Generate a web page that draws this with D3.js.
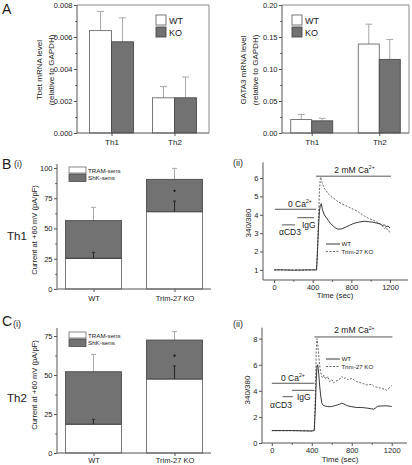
<!DOCTYPE html>
<html><head><meta charset="utf-8">
<script src="https://cdn.jsdelivr.net/npm/d3@7"></script>
<style>html,body{margin:0;padding:0;background:#fff;}svg{display:block;}</style>
</head><body>
<script>
// ---------------- DATA ----------------
const groupsA = ["Th1", "Th2"];
const tbetWT = [0.0064, 0.0022];
const tbetWTerr = [0.0012, 0.0007];
const tbetKO = [0.0057, 0.0022];
const tbetKOerr = [0.0015, 0.0013];
const gataWT = [0.021, 0.139];
const gataWTerr = [0.008, 0.031];
const gataKO = [0.019, 0.115];
const gataKOerr = [0.004, 0.031];
const tbetTicks = [0, 0.002, 0.004, 0.006, 0.008];
const gataTicks = [0, 0.05, 0.10, 0.15, 0.20];

const genotypes = ["WT", "Trim-27 KO"];
const th1Tram = [25.3, 63.9];
const th1Total = [56.5, 90.6];
const th1TotalErr = [11.0, 9.1];
const th1TramErr = [5.0, 8.8];
const th1Sig = [null, 81.2];
const th2Tram = [18.4, 47.4];
const th2Total = [52.1, 72.4];
const th2TotalErr = [11.1, 5.4];
const th2TramErr = [3.2, 8.4];
const th2Sig = [null, 62.4];
const th1Ticks = [0, 25, 50, 75, 100];
const th2Ticks = [0, 25, 50, 75];

const bTime = [0,100,200,300,400,440,450,460,470,480,490,500,520,540,560,580,600,630,660,700,740,780,820,860,900,940,980,1020,1060,1100,1120,1140,1160,1180,1200];
const bWT = [1.0,1.0,0.98,1.0,1.0,1.0,2.0,3.3,4.2,4.55,4.6,4.3,4.0,3.85,3.7,3.55,3.45,3.3,3.22,3.23,3.32,3.42,3.52,3.58,3.62,3.65,3.62,3.6,3.55,3.5,3.42,3.45,3.36,3.38,3.28];
const bKO = [1.0,1.0,1.0,0.98,1.0,1.0,2.2,3.8,5.3,6.05,5.9,5.7,5.45,5.3,5.15,5.05,4.95,4.85,4.72,4.6,4.5,4.4,4.3,4.2,4.05,3.92,3.8,3.72,3.62,3.48,3.4,3.25,3.32,3.12,3.05];
const cTime = [0,100,200,300,400,425,435,445,452,460,470,480,490,500,510,520,540,560,580,600,620,640,660,680,700,720,740,760,800,850,900,950,1000,1020,1040,1060,1100,1150,1200];
const cWT = [0.95,0.95,0.95,0.93,0.92,0.95,2.5,4.8,5.9,6.0,5.3,4.3,3.6,3.1,2.92,2.87,2.82,2.8,2.78,2.8,2.84,2.88,2.93,2.98,3.05,3.0,2.92,2.85,2.78,2.72,2.72,2.68,2.62,2.6,2.7,2.82,2.84,2.85,2.8];
const cKO = [0.95,0.95,0.95,0.95,0.93,1.0,3.5,7.2,8.0,7.6,6.7,5.9,5.4,5.1,5.0,5.2,4.9,5.1,4.7,4.85,4.6,4.75,4.8,4.9,5.1,4.95,5.0,4.85,4.95,4.7,4.6,4.45,4.5,4.35,4.3,4.25,4.2,4.05,4.4];
const timeTicks = [0, 400, 800, 1200];
const bRatioTicks = [1, 2, 3, 4, 5, 6];
const cRatioTicks = [0, 2, 4, 6, 8];
// treatment bars: [label, start time, end time, level]
const bTreat = [["2 mM", 434, 1210, 6.1], ["0", 10, 434, 4.3], ["IgG", 240, 413, 3.84], ["αCD3", 80, 218, 3.45]];
const cTreat = [["2 mM", 427, 1207, 8.13], ["0", 0, 427, 4.58], ["IgG", 203, 427, 4.04], ["αCD3", 107, 210, 3.55]];

// ---------------- SETUP ----------------
const FONT = "'Liberation Sans', Arial, Helvetica, sans-serif";
const AX = "#555", DARK = "#727272", DARKSTROKE = "#4a4a4a", ERR = "#a8a8a8", TXT = "#1a1a1a";
const svg = d3.select("body").append("svg").attr("width", 412).attr("height", 465)
  .style("font-family", FONT);

function line(g, x1, y1, x2, y2, col, w) {
  return g.append("line").attr("x1", x1).attr("y1", y1).attr("x2", x2).attr("y2", y2)
    .attr("stroke", col || AX).attr("stroke-width", w || 1);
}
function text(g, x, y, s, size, anchor) {
  return g.append("text").attr("x", x).attr("y", y).text(s).attr("font-size", size)
    .attr("fill", TXT).attr("text-anchor", anchor || "start");
}
function styleAxis(sel, fs) {
  sel.select(".domain").remove();
  sel.selectAll(".tick line").attr("stroke", AX);
  sel.selectAll(".tick text").attr("font-size", fs || 7.5).attr("fill", TXT).attr("font-family", FONT);
}
function yAxis(g, scale, x, majors, fmt, minors, top) {
  const a = g.append("g").attr("transform", `translate(${x},0)`)
    .call(d3.axisLeft(scale).tickValues(majors).tickFormat(fmt).tickSize(3).tickPadding(1.5));
  styleAxis(a);
  if (minors) {
    const m = g.append("g").attr("transform", `translate(${x},0)`)
      .call(d3.axisLeft(scale).tickValues(minors).tickFormat("").tickSize(1.8));
    styleAxis(m);
  }
  line(g, x, scale.range()[0], x, top !== undefined ? top : scale.range()[1]);
}
function xAxisBottom(g, scale, y, ticks, fmt, x0, x1, minors, fs, dy) {
  const a = g.append("g").attr("transform", `translate(0,${y})`)
    .call(d3.axisBottom(scale).tickValues(ticks).tickFormat(fmt).tickSize(3).tickPadding(1.5));
  styleAxis(a, fs);
  if (dy) a.selectAll(".tick text").attr("dy", dy);
  if (minors) {
    const m = g.append("g").attr("transform", `translate(0,${y})`)
      .call(d3.axisBottom(scale).tickValues(minors).tickFormat("").tickSize(1.8));
    styleAxis(m);
  }
  line(g, x0, y, x1, y);
}
function rotLabel(g, x, y, lines, size, gap) {
  const t = g.append("text").attr("transform", `translate(${x},${y}) rotate(-90)`)
    .attr("text-anchor", "middle").attr("font-size", size).attr("fill", TXT);
  lines.forEach((s, i) => t.append("tspan").attr("x", 0).attr("dy", i === 0 ? 0 : gap).text(s));
}
function caText(g, x, y, prefix, size, anchor) {
  const t = g.append("text").attr("x", x).attr("y", y).attr("font-size", size).attr("fill", TXT)
    .attr("text-anchor", anchor || "start");
  t.append("tspan").text(prefix + " Ca");
  t.append("tspan").attr("dy", -3.5).attr("font-size", size * 0.6).text("2+");
  return t;
}

// ---------------- PANEL A ----------------
function panelA(x0, x1, yMax, ticks, fmt, minorStep, wt, wtErr, ko, koErr, bw, pad, legX, labelX, lab) {
  const g = svg.append("g");
  const y = d3.scaleLinear().domain([0, yMax]).range([133, 5]);
  const x = d3.scalePoint().domain(groupsA).range([x0, x1]).padding(pad);
  const minors = d3.range(0, yMax + 1e-9, minorStep);
  line(g, x0, 5, x1, 5, "#8a8a8a");
  line(g, x1, 5, x1, 133, "#8a8a8a");
  const series = [[wt, wtErr, -1], [ko, koErr, 0]];
  series.forEach(([v, e, off]) => {
    groupsA.forEach((c, i) => {
      const cx = x(c) + off * bw + bw / 2;
      line(g, cx, y(v[i]), cx, y(v[i] + e[i]), ERR);
      line(g, cx - 3.5, y(v[i] + e[i]), cx + 3.5, y(v[i] + e[i]), ERR);
    });
  });
  groupsA.forEach((c, i) => {
    g.append("rect").attr("x", x(c) - bw).attr("y", y(wt[i])).attr("width", bw).attr("height", y(0) - y(wt[i]))
      .attr("fill", "#fff").attr("stroke", "#6a6a6a").attr("stroke-width", 0.9);
    g.append("rect").attr("x", x(c)).attr("y", y(ko[i])).attr("width", bw).attr("height", y(0) - y(ko[i]))
      .attr("fill", DARK).attr("stroke", DARKSTROKE).attr("stroke-width", 0.9);
  });
  yAxis(g, y, x0, ticks, d3.format(fmt), minors, 5);
  xAxisBottom(g, x, 133, groupsA, d => d, x0, x1, null, 8, "0.9em");
  g.append("rect").attr("x", legX).attr("y", 15).attr("width", 10).attr("height", 10).attr("fill", "#fff").attr("stroke", "#6a6a6a").attr("stroke-width", 0.9);
  g.append("rect").attr("x", legX).attr("y", 27).attr("width", 10).attr("height", 10).attr("fill", DARK).attr("stroke", DARKSTROKE).attr("stroke-width", 0.9);
  text(g, legX + 13, 24, "WT", 9);
  text(g, legX + 13, 36, "KO", 9);
  rotLabel(g, labelX, 70, lab, 8, 11.5);
}
panelA(77, 209, 0.008, tbetTicks, ".3f", 0.001, tbetWT, tbetWTerr, tbetKO, tbetKOerr, 22, 0.548, 156, 42, ["Tbet mRNA level", "(relative to GAPDH)"]);
panelA(282, 409, 0.20, gataTicks, ".2f", 0.025, gataWT, gataWTerr, gataKO, gataKOerr, 21, 0.44, 292, 246, ["GATA3 mRNA level", "(relative to GAPDH)"]);
svg.append("text").attr("x", 2).attr("y", 14).attr("font-size", 14).attr("fill", TXT).text("A");

// ---------------- PANELS B(i), C(i) ----------------
function panelI(yTop, yBase, yMaxTick, yAxisTop, ticks, tram, total, totErr, tramErr, sig, legY, labelY, xdy) {
  const g = svg.append("g");
  const y = d3.scaleLinear().domain([0, yMaxTick]).range([yBase, yTop]);
  const x = d3.scalePoint().domain(genotypes).range([57, 211]).padding(0.45);
  const bw = 56;
  genotypes.forEach((c, i) => {
    const cx = x(c);
    line(g, cx, y(total[i]), cx, y(total[i] + totErr[i]), ERR);
    line(g, cx - 2.5, y(total[i] + totErr[i]), cx + 2.5, y(total[i] + totErr[i]), ERR);
    g.append("rect").attr("x", cx - bw / 2).attr("y", y(total[i])).attr("width", bw).attr("height", y(tram[i]) - y(total[i]))
      .attr("fill", DARK).attr("stroke", DARKSTROKE).attr("stroke-width", 0.9);
    g.append("rect").attr("x", cx - bw / 2).attr("y", y(tram[i])).attr("width", bw).attr("height", y(0) - y(tram[i]))
      .attr("fill", "#fff").attr("stroke", "#6a6a6a").attr("stroke-width", 0.9);
    line(g, cx - bw / 2, y(tram[i]), cx + bw / 2, y(tram[i]), DARKSTROKE, 1.1);
    line(g, cx, y(tram[i]), cx, y(tram[i] + tramErr[i]), "#2a2a2a", 1.1);
    line(g, cx - 1.5, y(tram[i] + tramErr[i]), cx + 1.5, y(tram[i] + tramErr[i]), "#2a2a2a", 1);
    if (sig[i] !== null) g.append("circle").attr("cx", cx).attr("cy", y(sig[i])).attr("r", 1.1).attr("fill", "#111");
  });
  const minors = d3.range(12.5, yMaxTick + 1, 25);
  yAxis(g, y, 57, ticks, d3.format("d"), minors, yAxisTop);
  xAxisBottom(g, x, yBase, genotypes, d => d, 57, 211, null, 7.5, xdy);
  const lx = 69;
  g.append("rect").attr("x", lx).attr("y", legY).attr("width", 17).attr("height", 6).attr("fill", "#fff").attr("stroke", "#6a6a6a").attr("stroke-width", 0.8);
  g.append("rect").attr("x", lx).attr("y", legY + 7).attr("width", 17).attr("height", 7.5).attr("fill", DARK).attr("stroke", DARKSTROKE).attr("stroke-width", 0.8);
  text(g, lx + 19, legY + 5.5, "TRAM-sens", 6.2);
  text(g, lx + 19, legY + 13, "ShK-sens", 6.2);
  rotLabel(g, 37, labelY, ["Current at +60 mV (pA/pF)"], 7.6, 0);
}
panelI(168, 289, 100, 164, th1Ticks, th1Tram, th1Total, th1TotalErr, th1TramErr, th1Sig, 167, 230, "1.0em");
panelI(336, 453, 75, 328, th2Ticks, th2Tram, th2Total, th2TotalErr, th2TramErr, th2Sig, 332, 385, "0.78em");

svg.append("text").attr("x", 2).attr("y", 169).attr("font-size", 14).attr("fill", TXT).text("B");
svg.append("text").attr("x", 14).attr("y", 167).attr("font-size", 9).attr("fill", TXT).text("(i)");
svg.append("text").attr("x", 7).attr("y", 240).attr("font-size", 11.5).attr("fill", TXT).text("Th1");
svg.append("text").attr("x", 2).attr("y", 326).attr("font-size", 14).attr("fill", TXT).text("C");
svg.append("text").attr("x", 13).attr("y", 327).attr("font-size", 9).attr("fill", TXT).text("(i)");
svg.append("text").attr("x", 7).attr("y", 402).attr("font-size", 11.5).attr("fill", TXT).text("Th2");

// ---------------- PANELS B(ii), C(ii) ----------------
function panelII(cfg) {
  const g = svg.append("g");
  const x = d3.scaleLinear().domain(cfg.tDom).range(cfg.xRange);
  const y = d3.scaleLinear().domain(cfg.yDom).range(cfg.yRange);
  const ln = d3.line().x(d => x(d[0])).y(d => y(d[1]));
  const wtPts = cfg.time.map((t, i) => [t, cfg.wt[i]]);
  const koPts = cfg.time.map((t, i) => [t, cfg.ko[i]]);
  g.append("path").attr("d", ln(koPts)).attr("fill", "none").attr("stroke", "#555").attr("stroke-width", 0.9).attr("stroke-dasharray", "2,1.5");
  g.append("path").attr("d", ln(wtPts)).attr("fill", "none").attr("stroke", "#222").attr("stroke-width", 0.9);
  yAxis(g, y, cfg.xRange[0], cfg.yTicks, d3.format("d"), null, cfg.yRange[1]);
  xAxisBottom(g, x, cfg.yRange[0], timeTicks, d3.format("d"), cfg.xRange[0], cfg.xRange[1], [200, 600, 1000], 7.5, "0.68em");
  text(g, cfg.timeX, cfg.timeY, "Time (sec)", 7.8, "middle");
  rotLabel(g, cfg.ratioX, cfg.ratioY, ["340/380"], 8, 0);
  cfg.treat.forEach(([lab, t0, t1, lev]) => {
    line(g, x(t0), y(lev), x(t1), y(lev), "#555", 1);
  });
  const tr = Object.fromEntries(cfg.treat.map(d => [d[0], d]));
  caText(g, (x(tr["2 mM"][1]) + x(tr["2 mM"][2])) / 2 + 1, y(tr["2 mM"][3]) - 3.5, "2 mM", 8.5, "middle");
  caText(g, cfg.zeroX, y(tr["0"][3]) - 2.5, "0", 8.5, "start");
  text(g, cfg.igX, y(tr["IgG"][3]) + cfg.igDy, "IgG", 8.5);
  text(g, cfg.cdX, y(tr["αCD3"][3]) + cfg.cdDy, "αCD3", 8.5);
  line(g, cfg.legX, cfg.legY, cfg.legX + 14, cfg.legY, "#222", 0.9);
  line(g, cfg.legX, cfg.legY + 7.5, cfg.legX + 14, cfg.legY + 7.5, "#555", 0.9).attr("stroke-dasharray", "2,1.5");
  text(g, cfg.legX + 15.5, cfg.legY + 2.2, "WT", 6.2);
  text(g, cfg.legX + 15.5, cfg.legY + 9.7, "Trim-27 KO", 6.2);
  svg.append("text").attr("x", 233).attr("y", cfg.iiY).attr("font-size", 9).attr("fill", TXT).text("(ii)");
}
panelII({ time: bTime, wt: bWT, ko: bKO, tDom: [-114, 1386], xRange: [263, 408], yDom: [0.45, 6.85], yRange: [280, 162.4],
  yTicks: bRatioTicks, timeX: 335, timeY: 298, ratioX: 251, ratioY: 223, treat: bTreat,
  zeroX: 288, igX: 302, igDy: 10, cdX: 279, cdDy: 10.5, legX: 326, legY: 244, iiY: 166 });
panelII({ time: cTime, wt: cWT, ko: cKO, tDom: [-98, 1353], xRange: [262, 407], yDom: [0, 8.84], yRange: [443, 327.7],
  yTicks: cRatioTicks, timeX: 340, timeY: 462, ratioX: 250, ratioY: 390, treat: cTreat,
  zeroX: 281, igX: 297, igDy: 9.5, cdX: 270, cdDy: 11, legX: 326, legY: 359, iiY: 327 });
</script>
</body></html>
